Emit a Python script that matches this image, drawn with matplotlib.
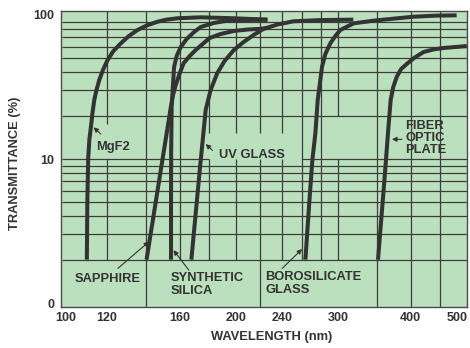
import matplotlib
matplotlib.use('Agg')
import matplotlib.pyplot as plt
from matplotlib.ticker import NullLocator
from matplotlib.transforms import ScaledTranslation

plt.rcParams['font.family'] = ['Liberation Sans', 'DejaVu Sans']
plt.rcParams['font.weight'] = 'bold'

# transmittance curves (wavelength nm, transmittance %)
mgf2_wl = [110.8, 111.0, 111.4, 111.9, 112.6, 113.3, 114.1, 115.1, 116.4, 118.1, 120.3, 123.1,
           126.8, 130.9, 135.5, 140.5, 146.6, 152.1, 158.7, 174.0, 198.3, 226.8]
mgf2_t = [2, 5, 10.2, 13.6, 16.7, 20.9, 25.7, 30.1, 35.4, 41.5, 48.7, 56.2,
          63.6, 71.5, 78.7, 84.6, 89.8, 92.9, 94.9, 96.4, 94.9, 92.8]

sapphire_wl = [140.4, 154.6, 155.8, 157.6, 160.2, 162.7, 166.6, 170.6, 175.4, 180.3, 188.3,
               198.3, 209.6, 220.6, 229.5]
sapphire_t = [2, 23, 27.4, 32.6, 39.6, 46.4, 51.9, 57.1, 62.9, 69.2, 73.8,
              77.4, 79.3, 80.1, 81.9]

silica_wl = [154.7, 154.7, 154.8, 155.1, 155.8, 156.6, 158.2, 160.8, 164.6, 169.5, 174.0,
             183.2, 193.4, 203.9, 226.8]
silica_t = [2, 5.2, 11.5, 23, 31.1, 43.5, 51.9, 60, 68.1, 76.2, 82.5,
            88, 91.3, 92.2, 92.8]

uv_wl = [167.7, 173.4, 177.5, 181.0, 185.8, 191.3, 198.5, 206.3, 214.6, 223.3, 236.0,
         251.3, 279.7, 318.8]
uv_t = [2, 8.4, 21.9, 30.1, 39.4, 47.9, 57.1, 64.9, 72.6, 80.1, 85.9,
        90.4, 92.2, 92.8]

boro_wl = [263.6, 267.9, 271.0, 274.3, 276.8, 281.6, 285.3, 291.0, 296.9, 302.8, 319.2,
           345.4, 368.9, 404.6, 441.0, 480.3]
boro_t = [2, 5.2, 9.84, 15.2, 25.7, 43.7, 53.6, 63.6, 71.5, 78.7, 87.5,
          91.3, 93.8, 97.3, 98.9, 99.5]

fiber_wl = [351.6, 361.8, 366.1, 369.7, 373.5, 378.8, 385.4, 394.1, 405.6, 421.1, 437.5,
            455.6, 477.1, 500.0]
fiber_t = [2, 8.4, 15.9, 25.7, 31.6, 37.3, 42.2, 45.7, 50.3, 55.3, 57.6,
           59, 59.9, 60.9]

x_ticks = [100, 120, 160, 200, 240, 300, 400, 500]
x_labels = ['100', '120', '160', '200', '240', '300', '400', '500']
y_ticks = [1, 10, 100]
y_labels = ['0', '10', '100']

dark = '#333333'
green = '#bbe0bd'

fig = plt.figure(figsize=(4.7, 3.48), dpi=100)
ax = fig.add_axes([61 / 470, 41.3 / 348, 406 / 470, 295.7 / 348])
ax.set_xscale('log')
ax.set_yscale('log')
xmin, xmax = 100.4, 500.4
ymin, ymax = 0.943, 106.6
ax.set_xlim(xmin, xmax)
ax.set_ylim(ymin, ymax)
ax.set_facecolor(green)

# grid, drawn piece by piece like the original sheet
grid_kw = dict(color='#3c3c3c', lw=0.9, zorder=1)
for v in [2, 3, 4, 5, 6, 7, 8, 9, 20, 30, 40, 50, 60, 70, 80, 90]:
    ax.hlines(v, xmin, xmax, **grid_kw)
ax.hlines(10, xmin, 180, **grid_kw)
ax.hlines(10, 260, xmax, **grid_kw)
vsegs = [(120, 2, 10), (120, 17.5, ymax), (140, ymin, ymax), (160, 2, ymax),
         (180, 2, 10), (180, 15.2, ymax), (200, 2, 10), (200, 15.2, ymax),
         (220, ymin, 10), (220, 15.2, ymax), (240, 2, 10), (240, 15.2, ymax),
         (260, 2, ymax), (280, 2, ymax), (300, 2, 10), (300, 20, ymax),
         (350, ymin, ymax), (400, ymin, ymax), (450, ymin, ymax)]
for x, y0, y1 in vsegs:
    ax.vlines(x, y0, y1, **grid_kw)

# curves
for wl, t in [(mgf2_wl, mgf2_t), (sapphire_wl, sapphire_t), (silica_wl, silica_t),
              (uv_wl, uv_t), (boro_wl, boro_t), (fiber_wl, fiber_t)]:
    ax.plot(wl, t, color=dark, lw=2.9, solid_capstyle='butt',
            solid_joinstyle='round', zorder=3)

# labels and arrows
txt = dict(color=dark, fontsize=9.3, fontweight='bold', zorder=4, linespacing=1.05)
arrow = dict(arrowstyle='-|>', color=dark, lw=0.8, mutation_scale=7, shrinkA=0, shrinkB=0)

ax.text(114.8, 12.2, 'MgF2', ha='left', va='center', **txt)
ax.annotate('', xy=(113.8, 16.6), xytext=(117.1, 14.9), arrowprops=arrow)

ax.text(186.8, 10.7, 'UV GLASS', ha='left', va='center', **txt)
ax.annotate('', xy=(177.5, 12.7), xytext=(182.3, 11.5), arrowprops=arrow)

ax.text(391.5, 14.0, 'FIBER\nOPTIC\nPLATE', ha='left', va='center', **txt)
ax.annotate('', xy=(371.5, 13.7), xytext=(386.5, 13.7), arrowprops=arrow)

ax.text(105.7, 1.48, 'SAPPHIRE', ha='left', va='center', **txt)
ax.annotate('', xy=(141.8, 2.67), xytext=(125.3, 1.74), arrowprops=arrow)

ax.text(154.6, 1.34, 'SYNTHETIC\nSILICA', ha='left', va='center', **txt)
ax.annotate('', xy=(156.2, 2.33), xytext=(166.1, 1.69), arrowprops=arrow)

ax.text(225.0, 1.37, 'BOROSILICATE\nGLASS', ha='left', va='center', **txt)
ax.annotate('', xy=(260.2, 2.37), xytext=(240.4, 1.74), arrowprops=arrow)

# axes
ax.xaxis.set_minor_locator(NullLocator())
ax.yaxis.set_minor_locator(NullLocator())
ax.set_xticks(x_ticks)
ax.set_xticklabels(x_labels)
ax.set_yticks(y_ticks)
ax.set_yticklabels(y_labels)
ax.tick_params(length=0, labelsize=9, labelcolor=dark)
ax.tick_params(axis='x', pad=4)
ax.tick_params(axis='y', pad=5)
xl = ax.get_xticklabels()
xl[0].set_transform(xl[0].get_transform() + ScaledTranslation(4.5 / 100, 0, fig.dpi_scale_trans))
xl[-1].set_transform(xl[-1].get_transform() + ScaledTranslation(-9.5 / 100, 0, fig.dpi_scale_trans))

for s in ax.spines.values():
    s.set_color('#4a4a4a')
    s.set_linewidth(1)
    s.set_zorder(5)

ax.set_xlabel('WAVELENGTH (nm)', fontsize=9.3, fontweight='bold', color=dark, va='center')
ax.xaxis.set_label_coords(0.519, -0.101)
ax.set_ylabel('TRANSMITTANCE (%)', fontsize=9.3, fontweight='bold', color=dark, va='center')
ax.yaxis.set_label_coords(-0.113, 0.486)

plt.savefig('out.png', dpi=100)
